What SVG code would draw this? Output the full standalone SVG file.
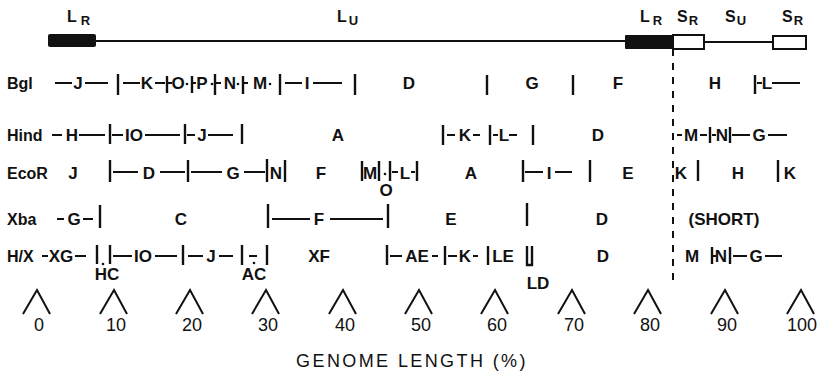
<svg xmlns="http://www.w3.org/2000/svg" width="821" height="378" viewBox="0 0 821 378">
<style>
.t{font-family:"Liberation Sans",Arial,sans-serif;font-weight:bold;font-size:17px;fill:#111;text-anchor:middle}
.lb{text-anchor:start;font-size:16px}
.top{font-family:"Liberation Sans",Arial,sans-serif;font-weight:bold;font-size:16px;fill:#111}
.sub{font-size:13px}
.ln{stroke:#111;stroke-width:2;fill:none}
.tk{stroke:#111;stroke-width:2.4;fill:none}
.dot{fill:#111}
.ax{font-family:"Liberation Sans",Arial,sans-serif;font-size:18px;fill:#111;text-anchor:middle}
</style>
<rect width="821" height="378" fill="#fff"/>

<g id="genome-bar">
<rect x="48" y="34" width="48" height="13" rx="2" fill="#111"/>
<line class="ln" x1="96" y1="41" x2="625" y2="41"/>
<rect x="625" y="35" width="48" height="14" rx="1" fill="#111"/>
<rect x="673" y="35" width="31" height="14" fill="#fff" stroke="#111" stroke-width="2"/>
<line class="ln" x1="704" y1="42" x2="773" y2="42"/>
<rect x="773" y="36" width="33" height="13" fill="#fff" stroke="#111" stroke-width="2"/>
<text class="top" x="67" y="22">L<tspan class="sub" dx="4" dy="3">R</tspan></text>
<text class="top" x="337" y="22">L<tspan class="sub" dx="2" dy="3">U</tspan></text>
<text class="top" x="640" y="22">L<tspan class="sub" dx="3" dy="3">R</tspan></text>
<text class="top" x="677" y="22">S<tspan class="sub" dx="1" dy="3">R</tspan></text>
<text class="top" x="725" y="22">S<tspan class="sub" dx="1" dy="3">U</tspan></text>
<text class="top" x="782" y="22">S<tspan class="sub" dx="1" dy="3">R</tspan></text>
<line class="ln" x1="673" y1="49" x2="673" y2="282" stroke-dasharray="7 7"/>
</g>

<g id="row-bgl">
<text class="t lb" x="7" y="89">Bgl</text>
<g class="ln">
<line x1="55" y1="83" x2="72" y2="83"/><line x1="85" y1="83" x2="108" y2="83"/>
<line x1="123" y1="83" x2="140" y2="83"/><line x1="155" y1="83" x2="165" y2="83"/>
<line x1="167" y1="83" x2="172" y2="83"/><line x1="192" y1="83" x2="196" y2="83"/>
<line x1="215" y1="83" x2="221" y2="83"/><line x1="243" y1="83" x2="248" y2="83"/>
<line x1="285" y1="83" x2="302" y2="83"/><line x1="313" y1="83" x2="342" y2="83"/>
<line x1="757" y1="83" x2="762" y2="83"/><line x1="772" y1="83" x2="800" y2="83"/>
</g>
<g class="tk">
<line x1="118" y1="74" x2="118" y2="95"/><line x1="167" y1="76" x2="167" y2="93"/>
<line x1="192" y1="76" x2="192" y2="93"/><line x1="215" y1="74" x2="215" y2="95"/>
<line x1="243" y1="76" x2="243" y2="94"/><line x1="280" y1="74" x2="280" y2="95"/>
<line x1="355" y1="74" x2="355" y2="95"/><line x1="487" y1="75" x2="487" y2="95"/>
<line x1="573" y1="75" x2="573" y2="95"/><line x1="755" y1="75" x2="755" y2="94"/>
</g>
<g class="dot"><circle cx="187" cy="84" r="1.3"/><circle cx="212" cy="84" r="1.3"/><circle cx="238" cy="84" r="1.3"/><circle cx="270" cy="84" r="1.3"/></g>
<text class="t" x="78" y="89">J</text><text class="t" x="147" y="89">K</text>
<text class="t" x="178" y="89">O</text><text class="t" x="202" y="89">P</text>
<text class="t" x="230" y="89">N</text><text class="t" x="260" y="89">M</text>
<text class="t" x="307" y="89">I</text><text class="t" x="409" y="89">D</text>
<text class="t" x="532" y="89">G</text><text class="t" x="618" y="89">F</text>
<text class="t" x="715" y="89">H</text><text class="t" x="767" y="89">L</text>
</g>

<g id="row-hind">
<text class="t lb" x="7" y="141">Hind</text>
<g class="ln">
<line x1="52" y1="135" x2="62" y2="135"/><line x1="79" y1="135" x2="105" y2="135"/>
<line x1="112" y1="135" x2="123" y2="135"/><line x1="145" y1="135" x2="180" y2="135"/>
<line x1="187" y1="135" x2="195" y2="135"/><line x1="208" y1="135" x2="233" y2="135"/>
<line x1="447" y1="135" x2="455" y2="135"/><line x1="473" y1="135" x2="480" y2="135"/>
<line x1="493" y1="135" x2="498" y2="135"/><line x1="509" y1="135" x2="517" y2="135"/>
<line x1="677" y1="135" x2="682" y2="135"/><line x1="700" y1="135" x2="707" y2="135"/>
<line x1="712" y1="135" x2="716" y2="135"/><line x1="732" y1="135" x2="750" y2="135"/>
<line x1="768" y1="135" x2="787" y2="135"/>
</g>
<g class="tk">
<line x1="110" y1="124" x2="110" y2="144"/><line x1="185" y1="124" x2="185" y2="144"/>
<line x1="242" y1="124" x2="242" y2="144"/><line x1="443" y1="125" x2="443" y2="145"/>
<line x1="490" y1="125" x2="490" y2="145"/><line x1="533" y1="125" x2="533" y2="145"/>
<line x1="710" y1="127" x2="710" y2="143"/><line x1="730" y1="127" x2="730" y2="143"/>
</g>
<text class="t" x="134" y="141">IO</text><text class="t" x="72" y="141">H</text>
<text class="t" x="202" y="141">J</text><text class="t" x="338" y="141">A</text>
<text class="t" x="465" y="141">K</text><text class="t" x="504" y="141">L</text>
<text class="t" x="598" y="141">D</text><text class="t" x="691" y="141">M</text>
<text class="t" x="722" y="141">N</text><text class="t" x="759" y="141">G</text>
</g>

<g id="row-ecor">
<text class="t lb" x="7" y="179">EcoR</text>
<g class="ln">
<line x1="113" y1="172" x2="138" y2="172"/><line x1="160" y1="172" x2="185" y2="172"/>
<line x1="191" y1="172" x2="222" y2="172"/><line x1="244" y1="172" x2="265" y2="172"/>
<line x1="392" y1="172" x2="398" y2="172"/><line x1="411" y1="172" x2="415" y2="172"/>
<line x1="525" y1="172" x2="543" y2="172"/><line x1="555" y1="172" x2="572" y2="172"/>
</g>
<g class="tk">
<line x1="110" y1="160" x2="110" y2="182"/><line x1="188" y1="160" x2="188" y2="182"/>
<line x1="267" y1="159" x2="267" y2="182"/><line x1="285" y1="160" x2="285" y2="182"/>
<line x1="362" y1="161" x2="362" y2="181"/><line x1="379" y1="161" x2="379" y2="181"/>
<line x1="390" y1="161" x2="390" y2="181"/><line x1="417" y1="161" x2="417" y2="181"/>
<line x1="523" y1="160" x2="523" y2="182"/><line x1="590" y1="160" x2="590" y2="182"/>
<line x1="698" y1="160" x2="698" y2="181"/><line x1="778" y1="160" x2="778" y2="182"/>
</g>
<circle class="dot" cx="385" cy="174" r="1.3"/>
<text class="t" x="73" y="179">J</text><text class="t" x="149" y="179">D</text>
<text class="t" x="233" y="179">G</text><text class="t" x="276" y="179">N</text>
<text class="t" x="321" y="179">F</text><text class="t" x="370" y="179">M</text>
<text class="t" x="386" y="196">O</text><text class="t" x="405" y="179">L</text>
<text class="t" x="471" y="179">A</text><text class="t" x="549" y="179">I</text>
<text class="t" x="628" y="179">E</text><text class="t" x="681" y="179">K</text>
<text class="t" x="738" y="179">H</text><text class="t" x="790" y="179">K</text>
</g>

<g id="row-xba">
<text class="t lb" x="7" y="225">Xba</text>
<g class="ln">
<line x1="57" y1="219" x2="64" y2="219"/><line x1="83" y1="219" x2="93" y2="219"/>
<line x1="272" y1="219" x2="310" y2="219"/><line x1="330" y1="219" x2="383" y2="219"/>
</g>
<g class="tk">
<line x1="100" y1="205" x2="100" y2="228"/><line x1="268" y1="204" x2="268" y2="228"/>
<line x1="388" y1="204" x2="388" y2="228"/><line x1="527" y1="203" x2="527" y2="226"/>
</g>
<text class="t" x="74" y="225">G</text><text class="t" x="181" y="225">C</text>
<text class="t" x="319" y="225">F</text><text class="t" x="451" y="225">E</text>
<text class="t" x="602" y="225">D</text><text class="t" x="724" y="225">(SHORT)</text>
</g>

<g id="row-hx">
<text class="t lb" x="7" y="262">H/X</text>
<g class="ln">
<line x1="42" y1="256" x2="48" y2="256"/><line x1="75" y1="256" x2="86" y2="256"/>
<line x1="113" y1="256" x2="132" y2="256"/><line x1="155" y1="256" x2="177" y2="256"/>
<line x1="188" y1="256" x2="203" y2="256"/><line x1="219" y1="256" x2="233" y2="256"/>
<line x1="249" y1="256" x2="257" y2="256"/>
<line x1="390" y1="256" x2="402" y2="256"/><line x1="432" y1="256" x2="438" y2="256"/>
<line x1="448" y1="256" x2="457" y2="256"/><line x1="473" y1="256" x2="478" y2="256"/>
<line x1="712" y1="256" x2="716" y2="256"/><line x1="733" y1="256" x2="747" y2="256"/>
<line x1="765" y1="256" x2="782" y2="256"/>
</g>
<g class="tk">
<line x1="97" y1="245" x2="97" y2="264"/><line x1="110" y1="245" x2="110" y2="264"/>
<line x1="183" y1="245" x2="183" y2="265"/><line x1="242" y1="245" x2="242" y2="265"/>
<line x1="267" y1="245" x2="267" y2="265"/><line x1="387" y1="245" x2="387" y2="265"/>
<line x1="445" y1="246" x2="445" y2="265"/><line x1="488" y1="246" x2="488" y2="265"/>
<path d="M527 246 V265 H532 V246"/>
<line x1="712" y1="247" x2="712" y2="264"/><line x1="730" y1="247" x2="730" y2="264"/>
</g>
<circle class="dot" cx="103" cy="264" r="1.3"/><circle class="dot" cx="254" cy="263" r="1.3"/>
<text class="t" x="61" y="262">XG</text><text class="t" x="107" y="280">HC</text>
<text class="t" x="143" y="262">IO</text><text class="t" x="211" y="262">J</text>
<text class="t" x="254" y="280">AC</text><text class="t" x="319" y="262">XF</text>
<text class="t" x="417" y="262">AE</text><text class="t" x="465" y="262">K</text>
<text class="t" x="503" y="262">LE</text><text class="t" x="538" y="289">LD</text>
<text class="t" x="603" y="262">D</text><text class="t" x="692" y="262">M</text>
<text class="t" x="721" y="262">N</text><text class="t" x="756" y="262">G</text>
</g>

<g id="scale">
<g class="ln" stroke-width="1.8">
<path d="M23 314 L37 290 L50 314"/>
<path d="M100 314 L114 290 L127 314"/>
<path d="M176 314 L190 290 L203 314"/>
<path d="M252 314 L266 290 L279 314"/>
<path d="M329 314 L343 290 L356 314"/>
<path d="M405 314 L419 290 L432 314"/>
<path d="M481 314 L495 290 L508 314"/>
<path d="M558 314 L572 290 L585 314"/>
<path d="M634 314 L648 290 L661 314"/>
<path d="M711 314 L725 290 L738 314"/>
<path d="M787 314 L801 290 L814 314"/>
</g>
<text class="ax" x="39" y="331">0</text><text class="ax" x="116" y="331">10</text>
<text class="ax" x="192" y="331">20</text><text class="ax" x="268" y="331">30</text>
<text class="ax" x="345" y="331">40</text><text class="ax" x="421" y="331">50</text>
<text class="ax" x="497" y="331">60</text><text class="ax" x="574" y="331">70</text>
<text class="ax" x="650" y="331">80</text><text class="ax" x="727" y="331">90</text>
<text class="ax" x="802" y="331">100</text>
<text class="ax" x="412" y="367" font-size="16" letter-spacing="2.4">GENOME LENGTH (%)</text>
</g>
</svg>
